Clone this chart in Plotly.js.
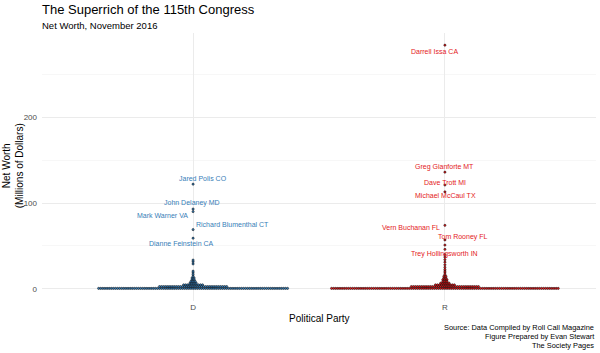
<!DOCTYPE html>
<html>
<head>
<meta charset="utf-8">
<script src="https://cdn.plot.ly/plotly-3.0.1.min.js"></script>
<style>html,body{margin:0;padding:0;background:#fff;}#chart{width:600px;height:353px;}</style>
</head>
<body>
<div id="chart"></div>
<script>
// ---------------- DATA (millions of dollars) ----------------
const parties = ['D', 'R'];

// Democrats: bulk of members as value bins with member counts
const demBinValues = [0.5, 2.6, 4.6, 6.6, 8.6, 10.6, 12.6, 14.6, 16.6, 18.6, 20.6, 29, 31.5, 33.5];
const demBinCounts = [91, 33, 10, 4, 3, 2, 2, 1, 1, 1, 1, 1, 1, 1];
// Democrats: labelled members
const demNames = ['Jared Polis CO', 'John Delaney MD', 'Mark Warner VA', 'Richard Blumenthal CT', 'Dianne Feinstein CA'];
const demNamedValues = [122, 93, 90, 69, 59];

// Republicans: bulk of members as value bins with member counts
const repBinValues = [0.5, 2.6, 4.6, 6.6, 8.6, 10.6, 12.6, 14.6, 16.6, 18.6, 20.6, 22.5, 25, 28, 31, 34, 37, 40, 51];
const repBinCounts = [109, 33, 10, 5, 3, 3, 2, 2, 1, 1, 1, 1, 1, 1, 1, 1, 1, 1, 1];
// Republicans: labelled members
const repNames = ['Darrell Issa CA', 'Greg Gianforte MT', 'Dave Trott MI', 'Michael McCaul TX', 'Vern Buchanan FL', 'Tom Rooney FL', 'Trey Hollingsworth IN'];
const repNamedValues = [284, 136, 121, 113, 74, 57, 46];

// y-axis ticks
const yTickVals = [0, 100, 200];
const yTickText = ['0', '100', '200'];
const yMinorVals = [50, 150, 250];

// ---------------- LAYOUT HELPERS (label placement, px) ----------------
const demLabelStyle = [
  {xanchor: 'center', xshift: 10, yshift: 6},
  {xanchor: 'center', xshift: -1, yshift: 6},
  {xanchor: 'right', xshift: -3, yshift: -4},
  {xanchor: 'left', xshift: 1, yshift: 5},
  {xanchor: 'center', xshift: -12, yshift: -5}
];
const repLabelStyle = [
  {xanchor: 'center', xshift: -10, yshift: -6},
  {xanchor: 'center', xshift: 0, yshift: 5},
  {xanchor: 'center', xshift: 0, yshift: 3},
  {xanchor: 'center', xshift: 1, yshift: -4},
  {xanchor: 'right', xshift: -3, yshift: -2},
  {xanchor: 'center', xshift: 18, yshift: 3},
  {xanchor: 'center', xshift: 0, yshift: -5}
];

const DOT_STEP = 2.1 / 252; // horizontal spacing of stacked dots in category units

function stackDots(center, binVals, binCounts, namedVals) {
  const xs = [], ys = [];
  binVals.forEach((v, b) => {
    const n = binCounts[b];
    for (let i = 0; i < n; i++) {
      xs.push(center + (i - (n - 1) / 2) * DOT_STEP);
      ys.push(v);
    }
  });
  namedVals.forEach(v => { xs.push(center); ys.push(v); });
  return {xs, ys};
}

const dem = stackDots(1, demBinValues, demBinCounts, demNamedValues);
const rep = stackDots(2, repBinValues, repBinCounts, repNamedValues);

const blue = '#377eb8', red = '#e41a1c';

const traces = [
  {x: dem.xs, y: dem.ys, type: 'scatter', mode: 'markers', hoverinfo: 'skip',
   marker: {size: 2.2, color: blue, line: {color: '#000', width: 0.5}}},
  {x: rep.xs, y: rep.ys, type: 'scatter', mode: 'markers', hoverinfo: 'skip',
   marker: {size: 2.2, color: red, line: {color: '#000', width: 0.5}}}
];

const font = 'Liberation Sans, Arial, sans-serif';
const labelSize = 7;
const annotations = [];
demNames.forEach((n, i) => annotations.push(Object.assign({
  x: 1, y: demNamedValues[i], xref: 'x', yref: 'y', text: n, showarrow: false,
  yanchor: 'middle', font: {family: font, size: labelSize, color: blue}
}, demLabelStyle[i])));
repNames.forEach((n, i) => annotations.push(Object.assign({
  x: 2, y: repNamedValues[i], xref: 'x', yref: 'y', text: n, showarrow: false,
  yanchor: 'middle', font: {family: font, size: labelSize, color: red}
}, repLabelStyle[i])));

// plot area: x 42..596 px, y 32.5..301 px
const H = 268.5, W = 554;
const py = p => (301 - p) / H;
const px = p => (p - 42) / W;

annotations.push(
  {xref: 'paper', yref: 'paper', x: px(40), y: py(9), xanchor: 'left', yanchor: 'middle', showarrow: false,
   text: 'The Superrich of the 115th Congress', font: {family: font, size: 13, color: '#000'}},
  {xref: 'paper', yref: 'paper', x: px(40), y: py(24.5), xanchor: 'left', yanchor: 'middle', showarrow: false,
   text: 'Net Worth, November 2016', font: {family: font, size: 9.5, color: '#000'}},
  {xref: 'paper', yref: 'paper', x: px(319), y: py(318.5), xanchor: 'center', yanchor: 'middle', showarrow: false,
   text: 'Political Party', font: {family: font, size: 10, color: '#000'}},
  {xref: 'paper', yref: 'paper', x: px(13), y: py(166), xanchor: 'center', yanchor: 'middle', showarrow: false,
   textangle: -90, text: 'Net Worth<br>(Millions of Dollars)', font: {family: font, size: 10, color: '#000'}},
  {xref: 'paper', yref: 'paper', x: 1, y: py(328), xanchor: 'right', yanchor: 'middle', showarrow: false,
   text: 'Source: Data Compiled by Roll Call Magazine', font: {family: font, size: 7.4, color: '#000'}},
  {xref: 'paper', yref: 'paper', x: 1, y: py(337), xanchor: 'right', yanchor: 'middle', showarrow: false,
   text: 'Figure Prepared by Evan Stewart', font: {family: font, size: 7.4, color: '#000'}},
  {xref: 'paper', yref: 'paper', x: 1, y: py(346), xanchor: 'right', yanchor: 'middle', showarrow: false,
   text: 'The Society Pages', font: {family: font, size: 7.4, color: '#000'}}
);

const layout = {
  width: 600, height: 353,
  margin: {l: 42, r: 4, t: 32.5, b: 52, pad: 0},
  paper_bgcolor: '#fff', plot_bgcolor: '#fff',
  showlegend: false,
  font: {family: font},
  xaxis: {
    range: [0.4, 2.6], tickvals: [1, 2], ticktext: parties, showgrid: true,
    gridcolor: '#ebebeb', gridwidth: 1, zeroline: false, showline: false, ticks: '',
    tickfont: {family: font, size: 8, color: '#4d4d4d'}, fixedrange: true
  },
  yaxis: {
    range: [-14.2, 298.2], tickvals: yTickVals, ticktext: yTickText, showgrid: true,
    gridcolor: '#ebebeb', gridwidth: 1, zeroline: false, showline: false, ticks: '',
    ticklabelstandoff: 4,
    minor: {tickvals: yMinorVals, showgrid: true, gridcolor: '#f2f2f2', gridwidth: 0.6},
    tickfont: {family: font, size: 8, color: '#4d4d4d'}, fixedrange: true
  },
  annotations: annotations
};

Plotly.newPlot('chart', traces, layout, {displayModeBar: false, staticPlot: true});
</script>
</body>
</html>
